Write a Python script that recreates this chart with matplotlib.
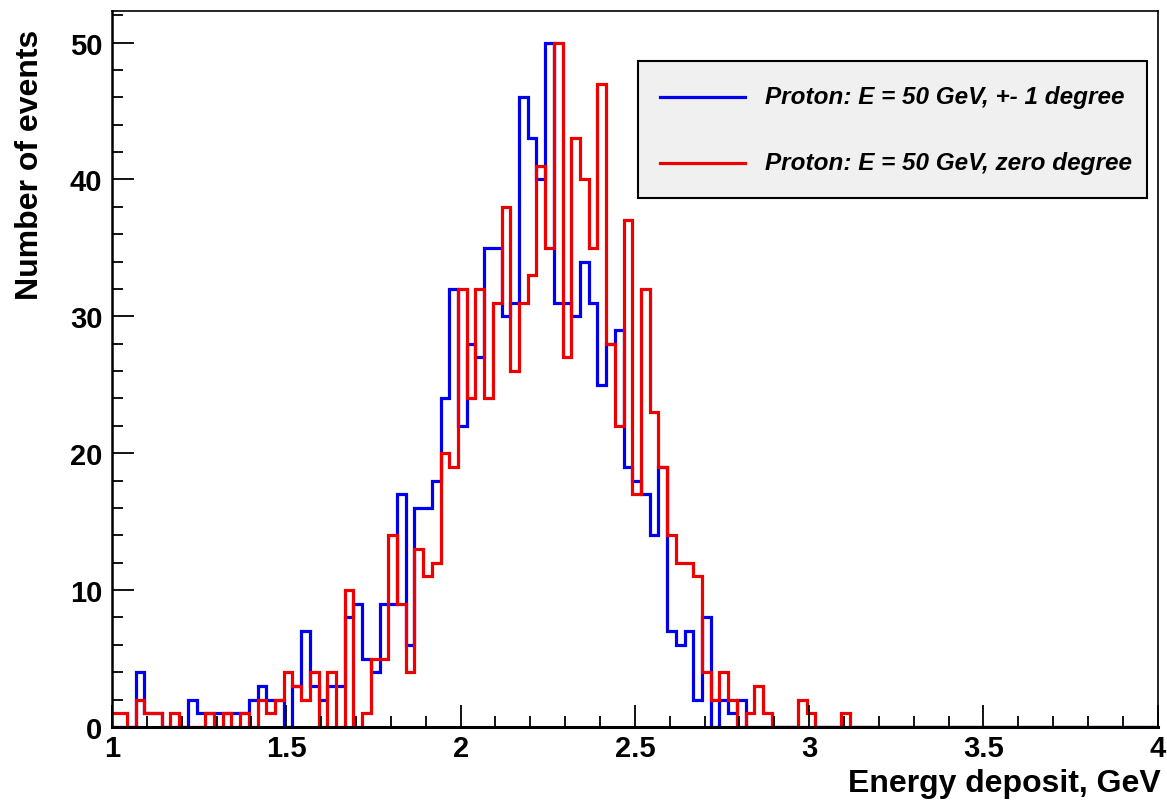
import numpy as np
import matplotlib
matplotlib.use("Agg")
import matplotlib.pyplot as plt
from matplotlib.patches import Rectangle
from matplotlib.lines import Line2D
from matplotlib.ticker import MultipleLocator

plt.rcParams['font.family'] = ['Liberation Sans', 'DejaVu Sans']

# histogram binning (bin width 0.025 GeV)
bin_start = 0.9925
bin_width = 0.025

# counts per bin, proton 50 GeV, +- 1 degree
blue_counts = [0, 0, 0, 4, 1, 1, 0, 0, 0, 2,
               1, 1, 1, 1, 1, 1, 2, 3, 2, 2,
               0, 3, 7, 3, 2, 3, 3, 8, 9, 5,
               4, 9, 9, 17, 6, 16, 16, 18, 24, 32,
               22, 28, 27, 35, 35, 30, 31, 46, 43, 40,
               50, 31, 31, 30, 34, 31, 25, 28, 29, 19,
               18, 17, 14, 19, 7, 6, 7, 2, 8, 0,
               2, 1, 2, 0, 0, 0, 0, 0, 0, 0,
               0, 0, 0, 0, 0, 0, 0, 0, 0, 0,
               0, 0, 0, 0, 0, 0, 0, 0, 0, 0,
               0, 0, 0, 0, 0, 0, 0, 0, 0, 0,
               0, 0, 0, 0, 0, 0, 0, 0, 0, 0,
               0]

# counts per bin, proton 50 GeV, zero degree
red_counts = [1, 1, 0, 2, 1, 1, 0, 1, 0, 0,
              0, 1, 0, 1, 0, 1, 0, 2, 1, 2,
              4, 3, 2, 4, 0, 4, 0, 10, 0, 1,
              5, 5, 14, 9, 4, 13, 11, 12, 20, 19,
              32, 24, 32, 24, 31, 38, 26, 31, 33, 41,
              35, 50, 27, 43, 40, 35, 47, 28, 22, 37,
              17, 32, 23, 19, 14, 12, 12, 11, 4, 2,
              4, 2, 0, 1, 3, 1, 0, 0, 0, 2,
              1, 0, 0, 0, 1, 0, 0, 0, 0, 0,
              0, 0, 0, 0, 0, 0, 0, 0, 0, 0,
              0, 0, 0, 0, 0, 0, 0, 0, 0, 0,
              0, 0, 0, 0, 0, 0, 0, 0, 0, 0,
              0]

labels = ["Proton: E = 50 GeV, +- 1 degree", "Proton: E = 50 GeV, zero degree"]
colors = ["#0000ee", "#ee0000"]

edges = bin_start + bin_width * np.arange(len(blue_counts) + 1)

fig = plt.figure(figsize=(11.67, 8.03), dpi=100)
ax = fig.add_axes([0.096, 0.0934, 0.896, 0.8916])

ax.stairs(blue_counts, edges, baseline=0, color=colors[0], lw=2.3)
ax.stairs(red_counts, edges, baseline=0, color=colors[1], lw=2.3)

ax.set_xlim(1, 4)
ax.set_ylim(0, 52.3)

ax.xaxis.set_major_locator(MultipleLocator(0.5))
ax.xaxis.set_minor_locator(MultipleLocator(0.1))
ax.yaxis.set_major_locator(MultipleLocator(10))
ax.yaxis.set_minor_locator(MultipleLocator(2))
ax.xaxis.set_major_formatter(plt.FuncFormatter(lambda v, p: f"{v:g}"))

ax.tick_params(which='both', direction='in', top=False, right=False, width=1.3)
ax.tick_params(which='major', length=16, labelsize=21, pad=7)
ax.tick_params(axis='x', which='major', pad=5)
ax.tick_params(which='minor', length=8)
for lab in ax.get_xticklabels() + ax.get_yticklabels():
    lab.set_fontweight('bold')

for s in ax.spines.values():
    s.set_linewidth(1.2)
ax.spines['bottom'].set_linewidth(2.2)
ax.spines['left'].set_linewidth(1.8)

fig.text(30 / 1167, 1 - 30 / 803, "Number of events", rotation=90,
         ha='center', va='top', fontsize=23, fontweight='bold')
fig.text(1161 / 1167, 1 - 792 / 803, "Energy deposit, GeV",
         ha='right', va='baseline', fontsize=23, fontweight='bold')

# legend box
ax.add_patch(Rectangle((0.503, 0.739), 0.487, 0.191, transform=ax.transAxes,
                       facecolor='#f0f0f0', edgecolor='black', lw=1.5, zorder=5))
for ypos, lab, col in zip([0.880, 0.788], labels, colors):
    ax.add_line(Line2D([0.524, 0.605], [ypos, ypos], transform=ax.transAxes,
                       color=col, lw=2.3, zorder=6))
    ax.text(0.624, ypos, lab, transform=ax.transAxes, fontsize=17.5,
            fontweight='bold', fontstyle='italic', va='center', zorder=6)

fig.savefig("out.png", dpi=100)
